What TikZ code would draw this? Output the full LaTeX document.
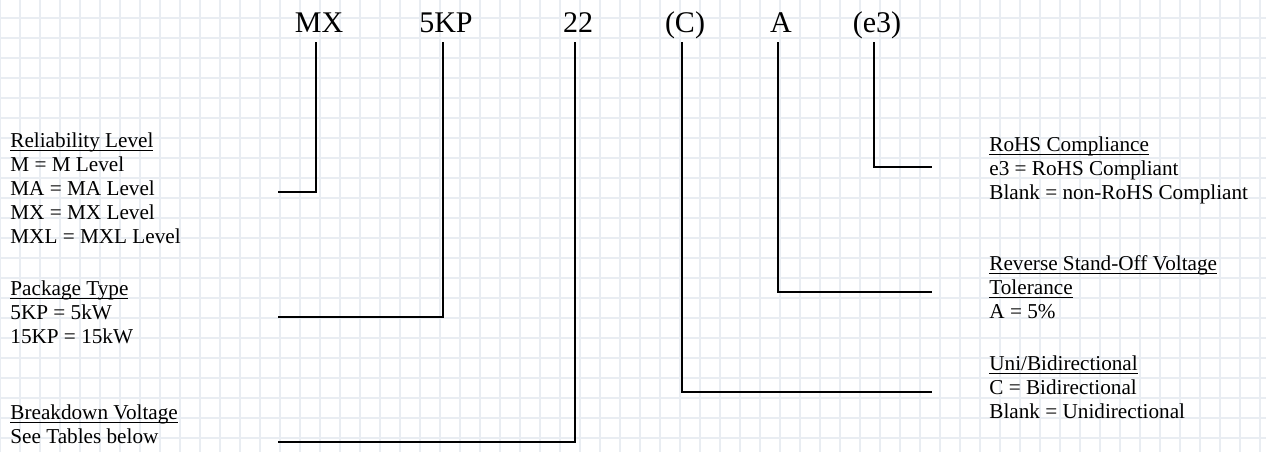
\documentclass[tikz,border=0pt]{standalone}
\usepackage{fontspec}
\setmainfont{Liberation Serif}
\usepackage{xcolor}
\usepackage{tikz}
\newcommand{\hd}[1]{\underline{\smash{#1}}}
\definecolor{gridgray}{RGB}{233,237,242}

\begin{document}
\begin{tikzpicture}[x=0.5pt,y=-0.5pt,
  code/.style={anchor=base,inner sep=5pt,text depth=0pt,font=\fontsize{15}{18}\selectfont},
  info/.style={anchor=north west,inner sep=0pt,align=left,font=\fontsize{10.6}{12}\selectfont},
  leader/.style={line width=1.1pt}]
  \useasboundingbox (0,0) rectangle (1266,452);
  \fill[white] (0,0) rectangle (1266,452);
  % paper grid
  \foreach \gx in {0,20,...,1260}
    \draw[gridgray,line width=0.9pt] (\gx,0) -- (\gx,452);
  \foreach \gy in {18,38,...,438}
    \draw[gridgray,line width=0.9pt] (0,\gy) -- (1266,\gy);

  % part number
  \node[code] (mx) at (319,32) {MX};
  \node[code] (kp) at (446,32) {5KP};
  \node[code] (bv) at (578,32) {22};
  \node[code] (bidir) at (685,32) {(C)};
  \node[code] (tol) at (781,32) {A};
  \node[code] (rohs) at (877,32) {(e3)};

  \coordinate (relend) at (278,192);
  \coordinate (pkgend) at (278,317);
  \coordinate (bvend) at (278,442);
  \coordinate (bidirend) at (932,392);
  \coordinate (tolend) at (932,292);
  \coordinate (rohsend) at (932,167);

  \foreach \code/\tip in {mx/relend,kp/pkgend,bv/bvend,bidir/bidirend,tol/tolend,rohs/rohsend}
    \draw[leader] ([xshift=-1.5pt]\code.south) |- (\tip);

  % descriptions
  \node[info] (relinfo) at (10,147) {\hd{Reliability Level}\\M = M Level\\MA = MA Level\\MX = MX Level\\MXL = MXL Level};
  \node[info] (pkginfo) at (10,295) {\hd{Package Type}\\5KP = 5kW\\15KP = 15kW};
  \node[info] (bvinfo) at (10,419) {\hd{Breakdown Voltage}\\See Tables below};
  \node[info] (rohsinfo) at (989,151) {\hd{RoHS Compliance}\\e3 = RoHS Compliant\\Blank = non-RoHS Compliant};
  \node[info] (tolinfo) at (989,270) {\hd{Reverse Stand-Off Voltage}\\\hd{Tolerance}\\A = 5\%};
  \node[info] (bidirinfo) at (989,370) {\hd{Uni/Bidirectional}\\C = Bidirectional\\Blank = Unidirectional};
\end{tikzpicture}
\end{document}
